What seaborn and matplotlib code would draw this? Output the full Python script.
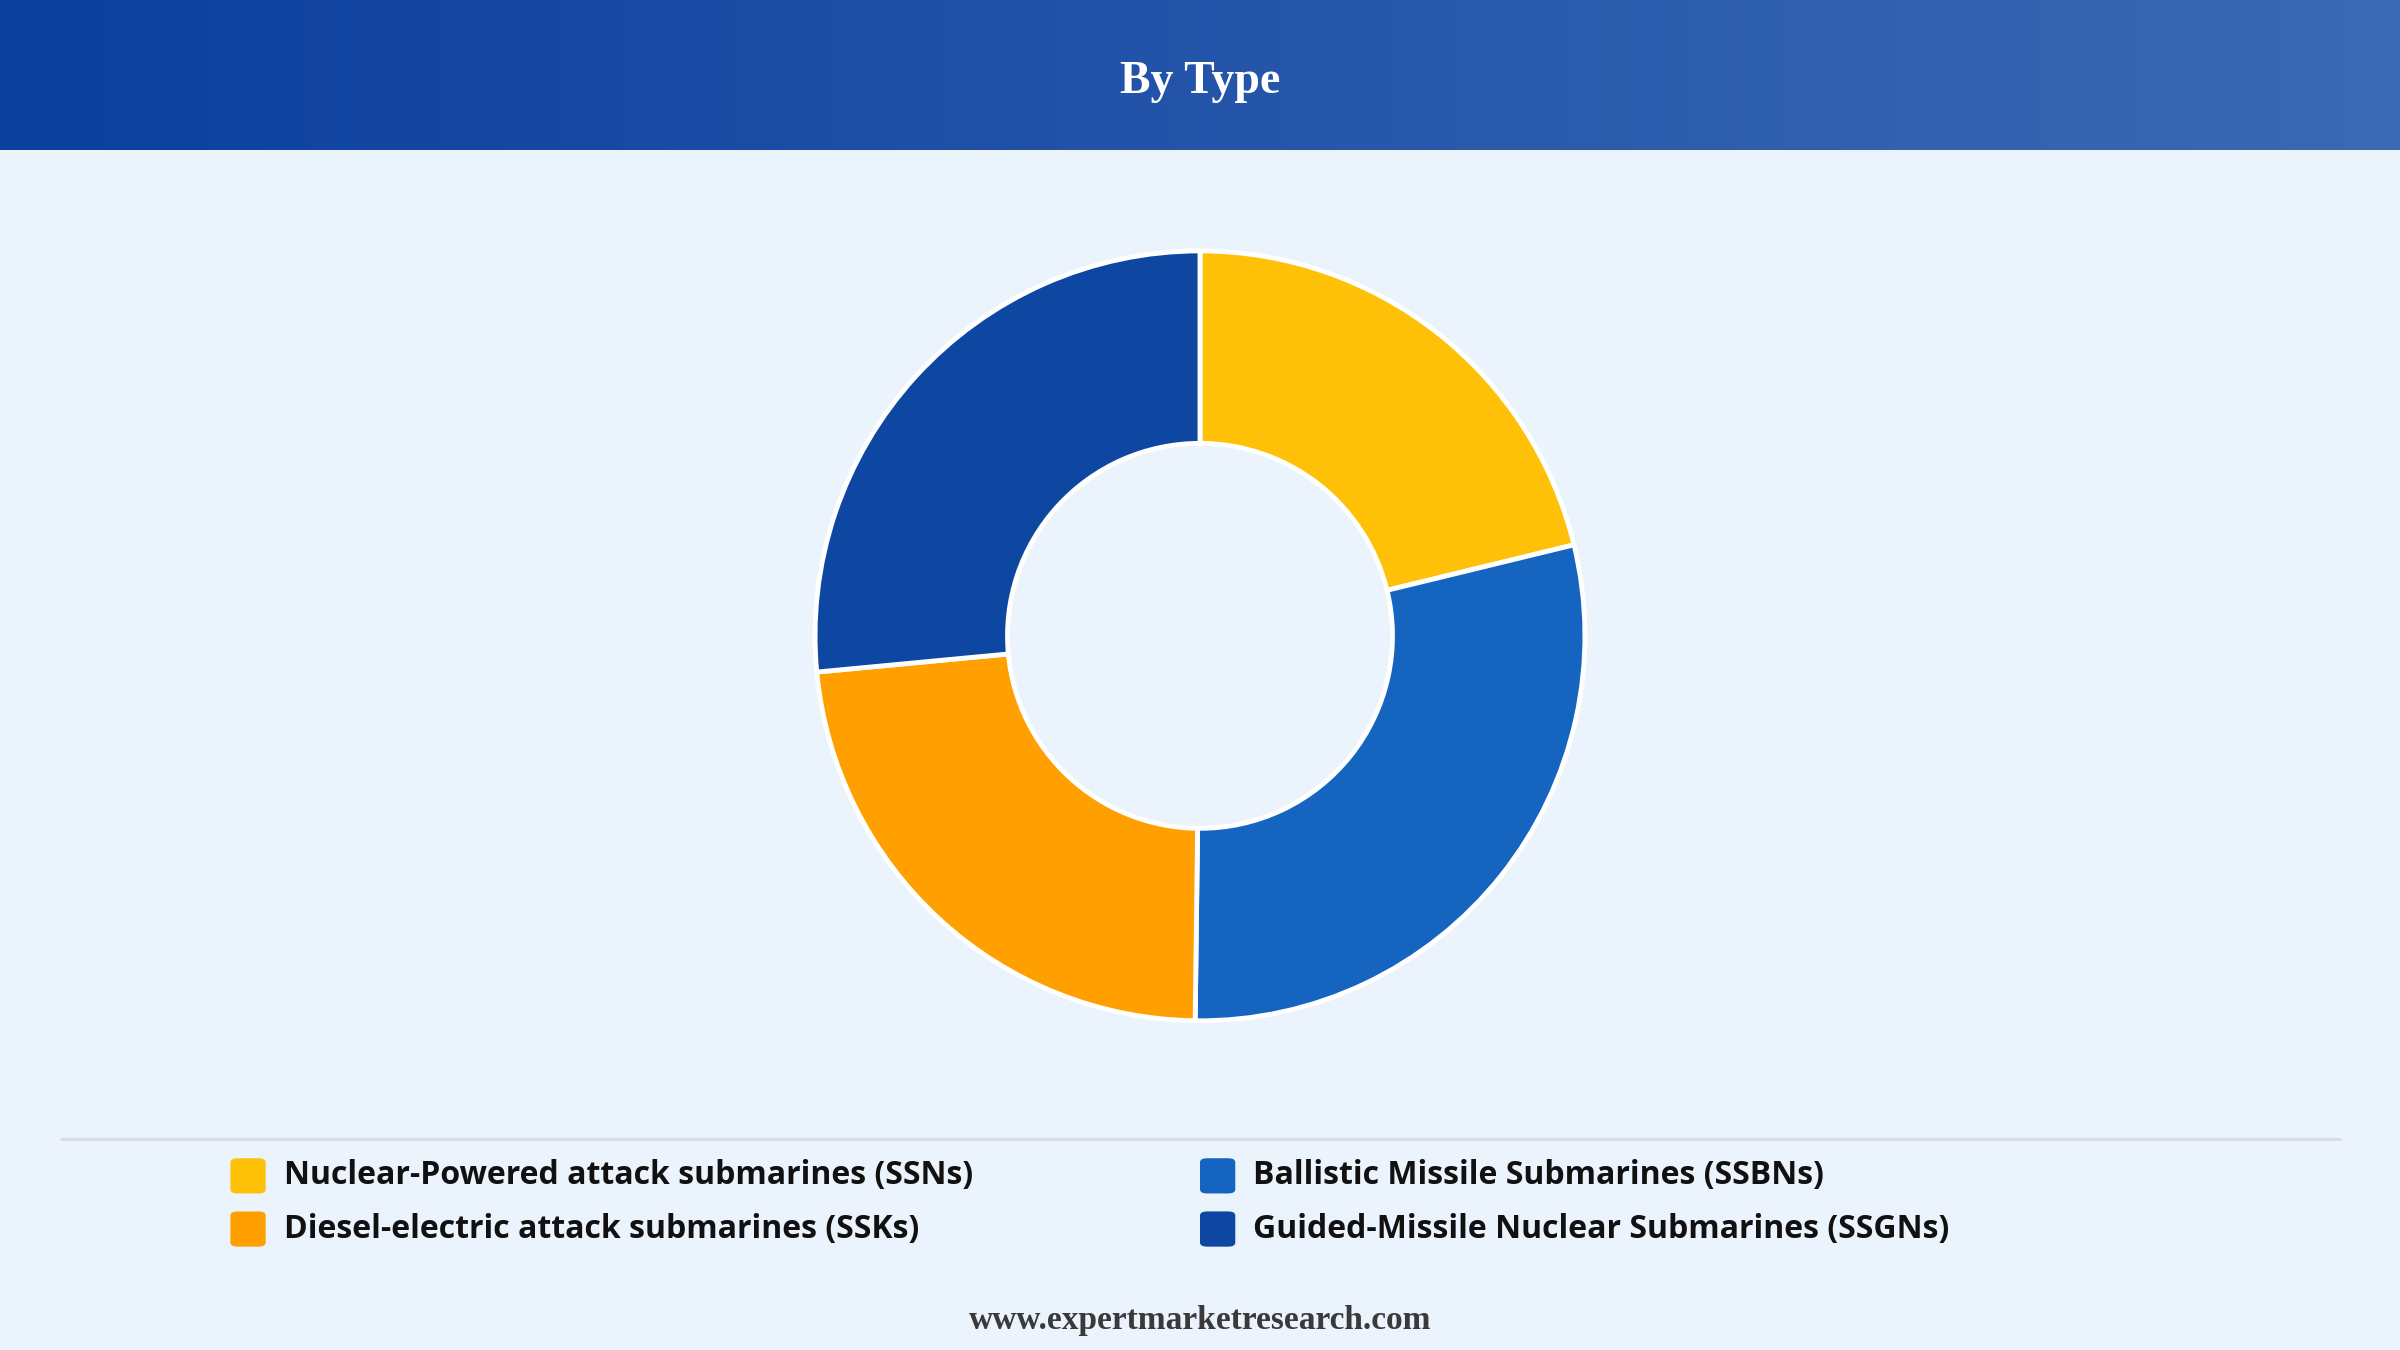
import numpy as np
import matplotlib.pyplot as plt
import seaborn as sns
from matplotlib.patches import FancyBboxPatch
from matplotlib.colors import LinearSegmentedColormap

sns.set_theme(style="white")

labels = ["Nuclear-Powered attack submarines (SSNs)", "Ballistic Missile Submarines (SSBNs)",
          "Diesel-electric attack submarines (SSKs)", "Guided-Missile Nuclear Submarines (SSGNs)"]
shares = [21.2, 29.0, 23.3, 26.5]
colors = ["#FFC107", "#1565C0", "#FFA000", "#0D47A1"]
bg = "#EBF3FC"

fig = plt.figure(figsize=(24, 13.5), dpi=100)
fig.patch.set_facecolor(bg)

# header gradient band
hax = fig.add_axes([0, 0.889, 1, 0.111])
grad = np.linspace(0, 1, 512).reshape(1, -1)
cmap = LinearSegmentedColormap.from_list("hdr", ["#0C3F9E", "#3B6AB4"])
hax.imshow(grad, aspect="auto", cmap=cmap, extent=[0, 1, 0, 1])
hax.set_axis_off()
hax.text(0.5, 0.45, "By Type", ha="center", va="center", color="white",
         fontsize=33, fontweight="bold", family="Liberation Serif")

# donut
ax = fig.add_axes([0.5 - 389 / 2400, 0.529 - 0.288, 778 / 2400, 0.576])
ax.pie(shares, colors=colors, startangle=90, counterclock=False, radius=1,
       wedgeprops=dict(width=0.5, edgecolor="white", linewidth=3.5))
ax.set_xlim(-1.01, 1.01)
ax.set_ylim(-1.01, 1.01)
ax.set_aspect("equal")
ax.set_axis_off()

# separator
fig.add_artist(plt.Line2D([0.0255, 0.975], [0.1565, 0.1565], color="#D5DCE6", lw=2))

# legend, column-wise: SSN, SSK | SSBN, SSGN
pos = [(0.096, 0.129), (0.5, 0.129), (0.096, 0.0896), (0.5, 0.0896)]
sq_w, sq_h = 0.0147, 0.0261
for (x, y), lab, col in zip(pos, labels, colors):
    fig.add_artist(FancyBboxPatch((x, y - sq_h / 2), sq_w, sq_h,
                                  boxstyle="round,pad=0,rounding_size=0.003",
                                  transform=fig.transFigure, facecolor=col, edgecolor="none"))
    fig.text(x + 0.0222, y, lab, ha="left", va="center", fontsize=23,
             fontweight="bold", family="Open Sans", color="#111111")

fig.text(0.5, 0.022, "www.expertmarketresearch.com", ha="center", va="center",
         fontsize=24, fontweight="bold", family="Liberation Serif", color="#3A3A3A")

fig.savefig("out.png", facecolor=bg)
